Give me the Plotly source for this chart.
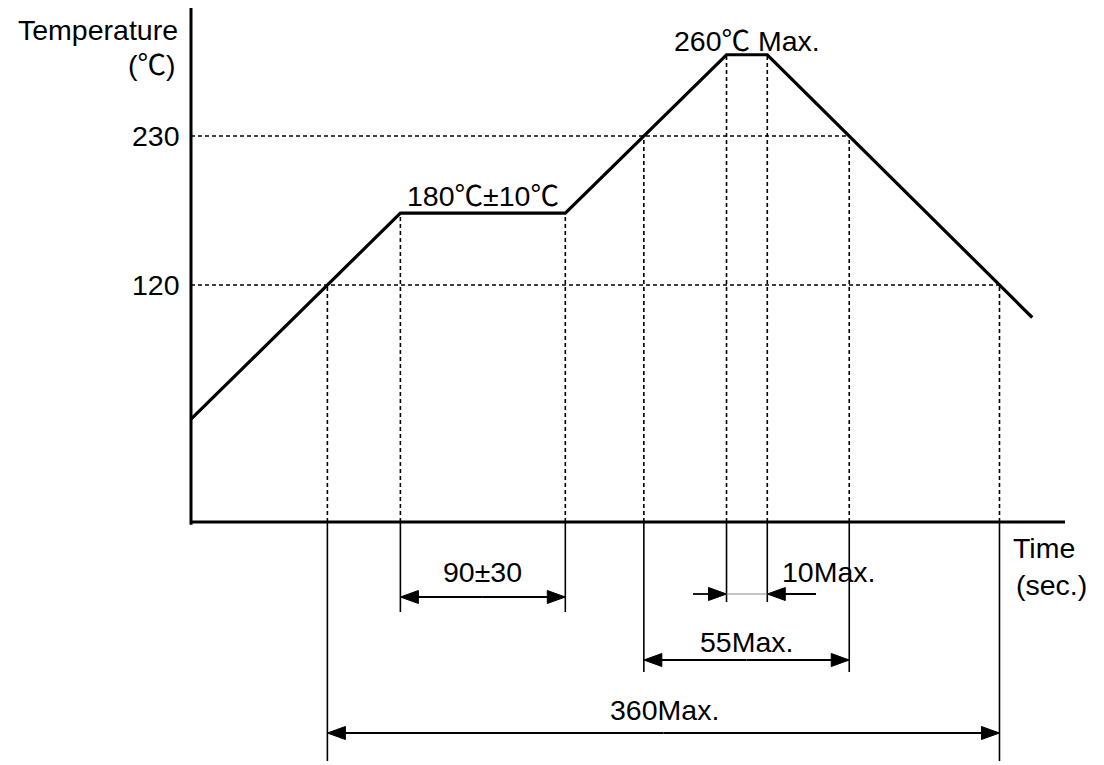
import numpy as np
import plotly.graph_objects as go

# ---------------- data (schematic reflow profile, not to scale) ----------------
profile_time = [0, 113, 202, 289, 311, 454]        # schematic time units
profile_temp = [21, 173, 173, 290, 290, 96]        # schematic temperature units
ref_temps = [230, 120]
ytick_labels = ["230", "120"]
soak_label = "180℃±10℃"
peak_label = "260℃ Max."
dim_soak_label = "90±30"
dim_peak_label = "10Max."
dim_230_label = "55Max."
dim_120_label = "360Max."
y_title = ["Temperature", "(℃)"]
x_title = ["Time", "(sec.)"]

# ---------------- layout geometry (window pixels) ----------------
OFF = 8                      # page body margin
W, H = 1104 - 2 * OFF + 4, 765 - 2 * OFF + 4
X0PX, SX = 191, 1.853        # window pixel of t=0, pixels per unit
Y120PX, SY = 285, 1.3545     # window pixel of T=120, pixels per unit


def px_x(p):
    return (p - X0PX) / SX


def px_y(p):
    return 120 + (Y120PX - p) / SY


x_rng = [px_x(OFF), px_x(OFF + W)]
y_rng = [px_y(OFF + H), px_y(OFF)]
axis_bottom = px_y(522)
axis_top = px_y(8)
axis_right = px_x(1065)

t = np.array(profile_time, float)
T = np.array(profile_temp, float)


def crossings(level):
    out = []
    for i in range(len(t) - 1):
        a, b = T[i], T[i + 1]
        if (a - level) * (b - level) < 0:
            out.append(t[i] + (level - a) * (t[i + 1] - t[i]) / (b - a))
    return out


c230 = crossings(230)
c120 = crossings(120)

FONT = "Liberation Sans, Arial, Helvetica, Noto Sans CJK JP, sans-serif"
CJK = "Noto Sans CJK JP"
FS = 28.5
K = "black"


def fmt(s):
    return s.replace("℃", "<span style=\"font-family:'%s'\">℃</span>" % CJK)


fig = go.Figure()

# dashed reference lines
dash = dict(color=K, width=1.6, dash="4px,3px")
for lvl, cr in ((230, c230), (120, c120)):
    fig.add_trace(go.Scatter(x=[0, cr[-1]], y=[lvl, lvl], mode="lines",
                             line=dash, hoverinfo="skip"))
key_pts = [(c120[0], 120), (t[1], T[1]), (t[2], T[2]), (c230[0], 230),
           (t[3], T[3]), (t[4], T[4]), (c230[1], 230), (c120[1], 120)]
for xv, yv in key_pts:
    fig.add_trace(go.Scatter(x=[xv, xv], y=[axis_bottom, yv], mode="lines",
                             line=dash, hoverinfo="skip"))

# profile
fig.add_trace(go.Scatter(x=profile_time, y=profile_temp, mode="lines",
                         line=dict(color=K, width=3.2), hoverinfo="skip"))

# axes
fig.add_trace(go.Scatter(x=[0, 0], y=[axis_top, axis_bottom - 2], mode="lines",
                         line=dict(color=K, width=3), hoverinfo="skip"))
fig.add_trace(go.Scatter(x=[0, axis_right], y=[axis_bottom, axis_bottom], mode="lines",
                         line=dict(color=K, width=3.2), hoverinfo="skip"))

# extension lines below axis
ext = [(t[1], px_y(612)), (t[2], px_y(612)),
       (t[3], px_y(602)), (t[4], px_y(602)),
       (c230[0], px_y(672)), (c230[1], px_y(672)),
       (c120[0], px_y(762)), (c120[1], px_y(762))]
for xv, yend in ext:
    fig.add_trace(go.Scatter(x=[xv, xv], y=[axis_bottom, yend], mode="lines",
                             line=dict(color=K, width=1.6), hoverinfo="skip"))

AL, AH = 18 / SX, 6.5 / SY   # arrowhead length / half-height in data units


def arrow(x_tip, x_tail, y):
    d = 1 if x_tip > x_tail else -1
    fig.add_trace(go.Scatter(x=[x_tail, x_tip - d * AL * 0.5], y=[y, y], mode="lines",
                             line=dict(color=K, width=1.8), hoverinfo="skip"))
    fig.add_trace(go.Scatter(x=[x_tip, x_tip - d * AL, x_tip - d * AL, x_tip],
                             y=[y, y + AH, y - AH, y], mode="lines", fill="toself",
                             fillcolor=K, line=dict(color=K, width=1),
                             hoverinfo="skip"))


def dbl(x0, x1, y):
    m = (x0 + x1) / 2
    arrow(x0, m, y)
    arrow(x1, m, y)


dbl(t[1], t[2], px_y(597))
dbl(c230[0], c230[1], px_y(660))
dbl(c120[0], c120[1], px_y(733))
arrow(t[3], px_x(693), px_y(594))
arrow(t[4], px_x(816), px_y(594))
fig.add_trace(go.Scatter(x=[t[3], t[4]], y=[px_y(594)] * 2, mode="lines",
                         line=dict(color="#888", width=1), hoverinfo="skip"))

annotations = []


def label(text, x, y, xanchor="center"):
    annotations.append(dict(x=x, y=y, xref="x", yref="y", text=fmt(text), showarrow=False,
                            xanchor=xanchor, yanchor="middle",
                            font=dict(family=FONT, size=FS, color=K)))


label(y_title[0], px_x(180), px_y(30), "right")
label(y_title[1], px_x(178), px_y(62), "right")
for lv, tx in zip(ref_temps, ytick_labels):
    label(tx, px_x(182), lv, "right")
label(soak_label, (t[1] + t[2]) / 2, px_y(193))
label(peak_label, (t[3] + t[4]) / 2, px_y(38))
label(dim_soak_label, (t[1] + t[2]) / 2, px_y(572))
label(dim_peak_label, px_x(780), px_y(572), "left")
label(dim_230_label, (c230[0] + c230[1]) / 2, px_y(642))
label(dim_120_label, px_x(664), px_y(710))
label(x_title[0], px_x(1011), px_y(548), "left")
label(x_title[1], px_x(1014), px_y(585), "left")

fig.update_layout(
    width=W, height=H, margin=dict(l=0, r=0, t=0, b=0),
    paper_bgcolor="white", plot_bgcolor="white", showlegend=False,
    xaxis=dict(range=x_rng, visible=False, fixedrange=True),
    yaxis=dict(range=y_rng, visible=False, fixedrange=True),
    annotations=annotations,
)
fig.write_html("out.html")
